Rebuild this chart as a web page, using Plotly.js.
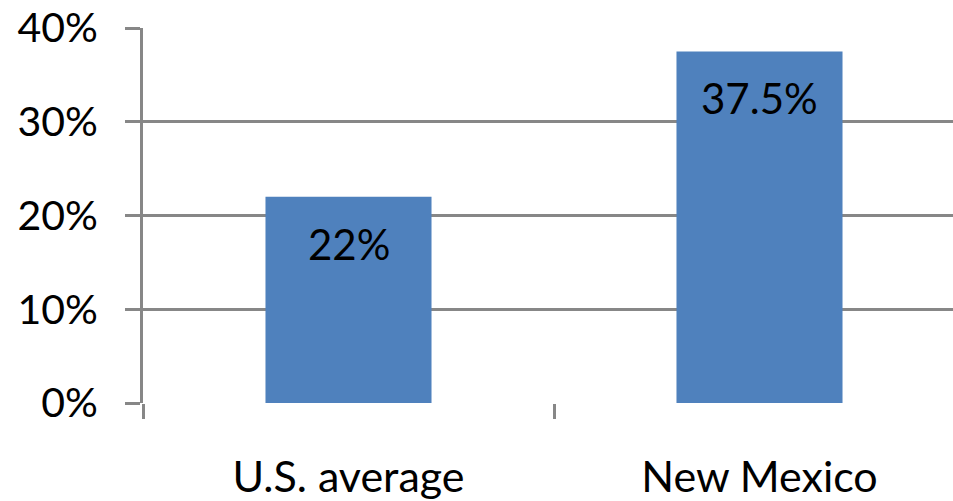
<!DOCTYPE html>
<html>
<head>
<meta charset="utf-8">
<script src="https://cdn.plot.ly/plotly-3.0.1.min.js"></script>
<style>
html, body { margin: 0; padding: 0; overflow: hidden; background: #fff; }
#chart { width: 970px; height: 501px; }
</style>
</head>
<body>
<div id="chart"></div>
<script>
const categories = ["U.S. average", "New Mexico"];
const values = [22, 37.5];
const valueLabels = ["22%", "37.5%"];
const yTickValues = [0, 10, 20, 30, 40];
const yTickLabels = ["0%", "10%", "20%", "30%", "40%"];

const FONT = "Lato, 'Liberation Sans', Arial, sans-serif";
const GRID = "#878787";

const trace = {
  type: "bar",
  x: categories,
  y: values,
  marker: { color: "#4F81BD" },
  hoverinfo: "none"
};

const annotations = categories.map((c, i) => ({
  x: c,
  y: values[i],
  xref: "x",
  yref: "y",
  text: valueLabels[i],
  showarrow: false,
  yanchor: "top",
  yshift: -20,
  font: { family: FONT, size: 42, color: "#000" }
}));

const layout = {
  width: 970,
  height: 501,
  margin: { l: 143, r: 5, t: 28, b: 98 },
  paper_bgcolor: "#fff",
  plot_bgcolor: "#fff",
  showlegend: false,
  bargap: 0.596,
  font: { family: FONT, color: "#000" },
  xaxis: {
    type: "category",
    tickson: "boundaries",
    ticks: "outside",
    ticklen: 15,
    tickwidth: 3,
    tickcolor: GRID,
    showgrid: false,
    showline: false,
    zeroline: false,
    tickfont: { family: FONT, size: 43, color: "#000" },
    ticklabelstandoff: 45
  },
  yaxis: {
    range: [0, 40],
    tickvals: yTickValues,
    ticktext: yTickLabels,
    ticks: "outside",
    ticklen: 15,
    tickwidth: 3,
    tickcolor: GRID,
    showgrid: true,
    gridcolor: GRID,
    gridwidth: 3,
    showline: true,
    linecolor: GRID,
    linewidth: 3,
    zeroline: false,
    tickfont: { family: FONT, size: 41, color: "#000" },
    ticklabelstandoff: 19
  },
  annotations: annotations
};

Plotly.newPlot("chart", [trace], layout, { displayModeBar: false, staticPlot: true });
</script>
</body>
</html>
